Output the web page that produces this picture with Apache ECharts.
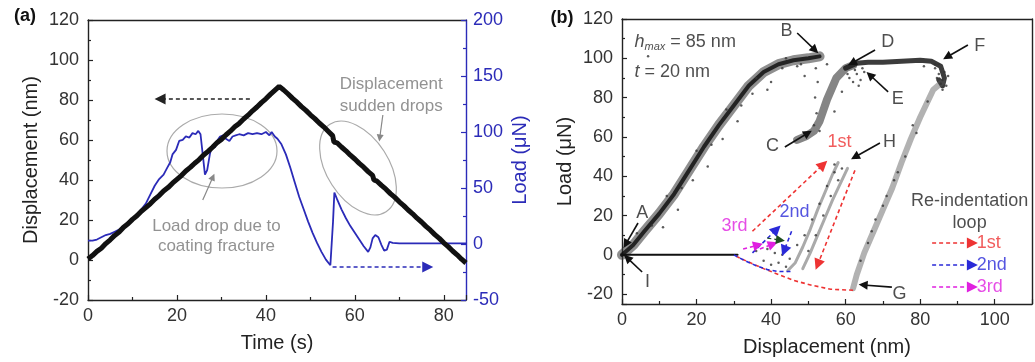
<!DOCTYPE html>
<html><head><meta charset="utf-8">
<script src="https://cdn.jsdelivr.net/npm/echarts@6/dist/echarts.min.js"></script>
<style>html,body{margin:0;padding:0;background:#fff}#c{width:1035px;height:362px}</style>
</head><body><div id="c"></div>
<script>
// ---------- Panel (a): displacement & load vs time ----------
const timeDisp = [0,1,2,3,4,5,6,7,8,9,10,11,12,13,14,15,16,17,18,19,20,21,22,23,24,25,26,27,28,29,30,31,32,33,34,35,36,37,38,39,40,41,42,43,44,45,46,47,48,49,50,51,52,53,54,55,55.3,56,57,58,59,60,61,62,63,64,64.3,65,66,67,68,69,70,71,72,73,74,75,76,77,78,79,80,81,82,83,84,85];
const dispValues = [0.5,2.2,4.3,5.9,8.2,10.1,12.3,14,16.4,18.1,20.3,22.1,24.4,26.2,28.1,30.4,32.2,34.5,36.2,38.4,40.3,42.2,44.5,46.3,48.4,50.2,52.5,54.3,56.4,58.6,60.3,62.5,64.4,66.6,68.3,70.5,72.4,74.6,76.5,78.7,80.6,82.8,84.8,86.8,85,83,80.8,78.9,76.7,74.8,72.6,70.7,68.5,66.6,64.4,62.2,59,58.6,56.5,54.6,52.4,50.5,48.3,46.4,44.2,42.3,40,39.4,37.3,35.4,33.2,31.3,29.1,27.2,25,23.1,20.9,19,16.8,14.9,12.7,10.8,8.6,6.7,4.5,2.6,0.4,-1.5];
const timeLoad = [0,1,2,3,4,5,6,7,8,9,10,11,12,13,14,15,16,17,17.8,18.5,19,19.8,20.5,21.3,22,22.8,23.5,24.2,24.8,25.3,25.6,26.3,26.8,27.4,27.9,28.5,29,29.7,30.4,31,31.8,32.5,33.2,34,35,36,37,38,39,40,40.8,41.3,42,42.6,43.5,44.5,45.5,46.5,47.5,48.5,49.5,50.5,51.5,52.5,53.5,54.5,54.9,55.1,55.4,56,57,58,59,60,61,62,63,63.5,64,64.6,65.3,66,66.6,67.2,67.8,68.5,70,75,80,85];
const loadValues = [3,3,4,6,8,9,11,13,16,19,22,26,31,36,44,52,58,62,68,73,80,84,92,93,96,95,99,98,101,98,99,62,66,80,88,86,92,96,97,94,92,96,97,98,97,99,98,99,98,100,97,100,96,94,89,80,68,55,42,31,20,10,1,-7,-14,-19,-20.5,20,46,40,31,23,16,10,4,-2,-7,-3,5,8,6,-1,-6,-5,2,1,0.5,0.5,0.5,0.5];
const dispTicks = [-20,0,20,40,60,80,100,120];
const loadTicks = [-50,0,50,100,150,200];
const timeTicks = [0,20,40,60,80];

// ---------- Panel (b): load vs displacement ----------
const loadingAB_x = [0,1.5,3,6,10,14,18,22,26,30,34,38,42,46,50,53];
const loadingAB_y = [0,2.5,5,12,21,31,43,55,66,76,86,93,97,99,100,101];
const reloadCD_x = [47,49.5,51.5,53,55,57.5,60,62];
const reloadCD_y = [58.5,60.5,63,68,79,90,95,96.5];
const plateauDF_x = [60,63,66,70,75,80,83,85.5,86.5,86,85];
const plateauDF_y = [95,97.5,98,98,98.5,99,98.5,96,90,86,89];
const unloadFG_x = [86,83.5,80,77.5,75,72.5,70,67.5,65,63,62];
const unloadFG_y = [88,84,70,59,47,34,23,12,1,-10,-17];
const flatI_x = [0,10,20,31];
const flatI_y = [0,0,0,0];
const innerL_x = [44.5,46.5,48.5,50.5,52.5,54.5,56.5,58];
const innerL_y = [-8,-4,4,13,23,32,41,47];
const innerR_x = [48.5,50.5,52.5,54.5,56.5,58.5,60.5];
const innerR_y = [-7,1,10,19,28,36,44];
const dots_x = [52,52.5,51.8,52.2,51.5,61,62,63,64,65,62.5,60.5,63.5,64.5,84,85,86,87,85.5,86.5,84.5,87.5,85,86,38,40,42,44,36,39,41,43,45,47,49,51,53,55,57,50,52,54,56,58,59,57,82,79,76,73,70,67,64,74,71,68,66,4,8,12,16,20,24,28,32,36,40,44,48,7,11,15,19,23,27,31,35,39,43,47,55,57,59,49,53,78,81,84];
const dots_y = [95,88,80,72,66,90,88,92,89,93,94,92,86,95,95,92,89,86,87,93,90,91,97,84,-3,-5,-4,-6,2,3,1,0,-2,5,10,18,26,35,42,2,10,20,30,38,44,46,78,62,50,38,25,12,-3,42,30,18,6,11,15,30,34,53,56,74,76,90,88,100,97,101,14,23,38,45,59,68,82,84,95,96,97,73,83,91,63,66,96,97,97];
const xTicksB = [0,20,40,60,80,100];
const yTicksB = [-20,0,20,40,60,80,100,120];

const fam = "'Liberation Sans', Arial, Helvetica, sans-serif";
const BLUE = '#2b2bb8';
const zip = (a, b) => a.map((v, i) => [v, b[i]]);

function xAx(grid, min, max, pos, show, name) {
  return {
    gridIndex: grid, type: 'value', min: min, max: max, position: pos,
    interval: show ? 20 : undefined,
    axisLine: {show: true, onZero: false, lineStyle: {color: '#222', width: 1.4}},
    axisTick: {show: show, inside: true, length: 5, lineStyle: {color: '#222', width: 1.2}},
    minorTick: {show: show, splitNumber: 2, length: 3, lineStyle: {color: '#222', width: 1.2}},
    axisLabel: {show: show, showMaxLabel: false, fontSize: 18, color: '#333', fontFamily: fam, margin: 7},
    splitLine: {show: false},
    name: name || '', nameLocation: 'middle', nameGap: 33,
    nameTextStyle: {fontSize: 20, color: '#222', fontFamily: fam}
  };
}
function yAx(grid, opts) {
  const color = opts.color || '#222';
  const show = opts.show !== false;
  const ax = {
    gridIndex: grid, type: 'value', min: opts.min, max: opts.max, position: opts.pos,
    axisLine: {show: true, onZero: false, lineStyle: {color: color, width: 1.4}},
    axisTick: {show: show, inside: true, length: 5, lineStyle: {color: color, width: 1.2}},
    minorTick: {show: show, splitNumber: 2, length: 3, lineStyle: {color: color, width: 1.2}},
    axisLabel: {show: show, fontSize: 18, color: opts.labelColor || '#333', fontFamily: fam, margin: opts.margin || 9,
      formatter: opts.fmt},
    splitLine: {show: false},
    name: opts.name || '', nameLocation: 'middle', nameGap: opts.gap || 45, nameRotate: 90,
    nameTextStyle: {fontSize: 20, color: opts.nameColor || '#222', fontFamily: fam}
  };
  if (opts.interval) ax.interval = opts.interval;
  if (opts.splitNumber) ax.splitNumber = opts.splitNumber;
  if (opts.hideMin) ax.axisLabel.showMinLabel = false;
  return ax;
}

function texts(xi, yi, items) {
  return {
    type: 'scatter', xAxisIndex: xi, yAxisIndex: yi, symbolSize: 1, silent: true, z: 20,
    itemStyle: {color: 'rgba(0,0,0,0)'},
    data: items.map(it => ({
      value: [it.x, it.y],
      label: {show: true, position: [0, 0], formatter: it.t, color: it.c || '#222',
        fontSize: it.s || 18, fontFamily: fam, fontWeight: it.w || 'normal',
        align: it.a || 'center', verticalAlign: 'middle', rich: it.rich}
    }))
  };
}
function arrows(xi, yi, list, color, width, dashed, size) {
  return {
    type: 'lines', coordinateSystem: 'cartesian2d', xAxisIndex: xi, yAxisIndex: yi,
    symbol: ['none', 'triangle'], symbolSize: size || 10, silent: true, z: 15,
    lineStyle: {color: color, width: width, type: dashed ? [4, 3] : 'solid', opacity: 1, curveness: 0},
    data: list.map(c => ({coords: c}))
  };
}
function curve(xi, yi, coords, color, width, dashed) {
  return {
    type: 'lines', coordinateSystem: 'cartesian2d', xAxisIndex: xi, yAxisIndex: yi, polyline: true,
    silent: true, z: 14,
    lineStyle: {color: color, width: width, type: dashed ? [4, 3] : 'solid', opacity: 1},
    data: [{coords: coords}]
  };
}
function band(xi, yi, xs, ys, color, width, op) {
  return {
    type: 'line', xAxisIndex: xi, yAxisIndex: yi, data: zip(xs, ys), showSymbol: false, silent: true,
    lineStyle: {color: color, width: width, opacity: op, join: 'round', cap: 'round'}, z: 3
  };
}

const option = {
  animation: false,
  backgroundColor: '#fff',
  grid: [
    {left: 88, top: 20, right: 569, bottom: 62},
    {left: 622, top: 19, right: 3, bottom: 58}
  ],
  xAxis: [
    xAx(0, 0, 85, 'bottom', true, 'Time (s)'),
    xAx(0, 0, 85, 'top', false),
    xAx(1, 0, 110, 'bottom', true, 'Displacement (nm)'),
    xAx(1, 0, 110, 'top', false)
  ],
  yAxis: [
    yAx(0, {min: -20, max: 120, interval: 20, pos: 'left', name: 'Displacement (nm)', gap: 47}),
    yAx(0, {min: -50, max: 200, interval: 50, pos: 'right', color: BLUE, labelColor: BLUE, nameColor: BLUE,
      name: 'Load (μN)', gap: 44, margin: 7}),
    yAx(1, {min: -25, max: 120, splitNumber: 7, pos: 'left', name: 'Load (μN)', gap: 47, hideMin: true,
      fmt: v => (Math.abs(v % 20) < 1e-9 ? String(v) : '')}),
    yAx(1, {min: -25, max: 120, pos: 'right', show: false})
  ],
  graphic: [
    {type: 'ellipse', shape: {cx: 222, cy: 151, rx: 55, ry: 37}, style: {fill: 'none', stroke: '#aaa', lineWidth: 1.2}, z: 1},
    {type: 'ellipse', x: 358, y: 168, rotation: -1.0, shape: {cx: 0, cy: 0, rx: 52, ry: 31}, style: {fill: 'none', stroke: '#aaa', lineWidth: 1.2}, z: 1}
  ],
  series: [
    // panel (a)
    {type: 'line', xAxisIndex: 0, yAxisIndex: 1, data: zip(timeLoad, loadValues), showSymbol: false,
      lineStyle: {color: BLUE, width: 1.8}, z: 4},
    {type: 'line', xAxisIndex: 0, yAxisIndex: 0, data: zip(timeDisp, dispValues), showSymbol: false,
      lineStyle: {color: '#111', width: 5}, z: 5},
    arrows(0, 0, [[[36.4, 80.5], [16.2, 80.5]]], '#222', 1.6, true, 11),
    arrows(0, 1, [[[55, -20.5], [76.4, -20.5]]], BLUE, 1.6, true, 11),
    arrows(0, 0, [[[66.3, 72.5], [65.6, 61]], [[25.8, 30], [28.1, 41.5]]], '#888', 1.2, false, 7),
    texts(0, 0, [
      {x: 68.3, y: 87.5, t: 'Displacement', c: '#777', s: 17},
      {x: 68.3, y: 76.5, t: 'sudden drops', c: '#777', s: 17},
      {x: 29, y: 16.5, t: 'Load drop due to', c: '#777', s: 17},
      {x: 29, y: 6.5, t: 'coating fracture', c: '#777', s: 17}
    ]),
    // panel (b)
    band(2, 2, loadingAB_x, loadingAB_y, '#333', 10, 0.55),
    band(2, 2, loadingAB_x, loadingAB_y, '#111', 4, 0.85),
    band(2, 2, reloadCD_x, reloadCD_y, '#333', 8, 0.6),
    band(2, 2, plateauDF_x, plateauDF_y, '#1a1a1a', 5, 0.85),
    band(2, 2, unloadFG_x, unloadFG_y, '#555', 6, 0.45),
    band(2, 2, flatI_x, flatI_y, '#111', 2, 1),
    band(2, 2, innerL_x, innerL_y, '#555', 3, 0.5),
    band(2, 2, innerR_x, innerR_y, '#555', 3, 0.5),
    {type: 'scatter', xAxisIndex: 2, yAxisIndex: 2, data: zip(dots_x, dots_y), symbolSize: 2.5, silent: true,
      itemStyle: {color: '#333', opacity: 0.8}, z: 4},
    curve(2, 2, [[62, -18], [56, -17.5], [51, -15.5], [46, -13], [42, -10], [38, -7], [35, -4.5], [32, -2], [30, 0]], '#e33', 1.6, true),
    curve(2, 2, [[30, 0], [33, -3], [36, -5.5], [39, -7.5], [42, -8.5], [46, -8.5]], '#2a2ad8', 1.6, true),
    arrows(2, 2, [[[35, 12], [54, 46]], [[62.5, 43], [52.5, -5]]], '#e33', 1.6, true, 11),
    arrows(2, 2, [[[35, 1], [41.5, 13]], [[45.5, 12], [43.5, 2]]], '#2a2ad8', 1.6, true, 11),
    arrows(2, 2, [[[32.5, 3], [36.5, 5]], [[37, 3], [40.5, 5.5]]], '#e020e0', 1.6, true, 10),
    arrows(2, 2, [[[39, 8.5], [42.5, 7.5]]], '#1f4f1f', 1.2, true, 9),
    arrows(2, 2, [
      [[4.3, 16.2], [1.0, 5.5]], [[5.4, -8.7], [1.4, -1.5]], [[47, 112.9], [51.8, 104.2]],
      [[43.7, 54.9], [49.9, 62]], [[67.9, 104.2], [61.7, 97.6]], [[71.4, 82.9], [66.5, 91.5]],
      [[92.8, 106.8], [87.2, 100.7]], [[69.2, 56.9], [62.5, 49.8]], [[72.4, -16.4], [64.7, -15.3]]
    ], '#111', 1.6, false, 9),
    // legend of re-indentation loops
    arrows(2, 2, [[[83.2, 6], [94, 6]]], '#e33', 1.6, true, 11),
    arrows(2, 2, [[[83.2, -5.2], [94, -5.2]]], '#2a2ad8', 1.6, true, 11),
    arrows(2, 2, [[[83.2, -16.4], [94, -16.4]]], '#e020e0', 1.6, true, 11),
    texts(2, 2, [
      {x: 93.4, y: 26.9, t: 'Re-indentation'},
      {x: 93.4, y: 15.7, t: 'loop'},
      {x: 95.3, y: 6, t: '1st', c: '#e33', a: 'left'},
      {x: 95.3, y: -5.2, t: '2nd', c: '#2a2ad8', a: 'left'},
      {x: 95.3, y: -16.4, t: '3rd', c: '#e020e0', a: 'left'},
      {x: 58.5, y: 56.9, t: '1st', c: '#e33'},
      {x: 46.4, y: 21.3, t: '2nd', c: '#2a2ad8'},
      {x: 30.3, y: 14.2, t: '3rd', c: '#e020e0'},
      {x: 5.6, y: 20.8, t: 'A'}, {x: 44.3, y: 113.4, t: 'B'}, {x: 40.5, y: 54.9, t: 'C'},
      {x: 71.4, y: 107.8, t: 'D'}, {x: 74.1, y: 78.8, t: 'E'}, {x: 96.1, y: 105.8, t: 'F'},
      {x: 74.6, y: -20.4, t: 'G'}, {x: 71.9, y: 56.9, t: 'H'}, {x: 7.0, y: -14.3, t: 'I'},
      {x: 3.5, y: 107.8, a: 'left', t: '{i|h}{s|max}{n| = 85 nm}',
        rich: {i: {fontStyle: 'italic', fontSize: 18, fontFamily: fam, color: '#222'},
               s: {fontStyle: 'italic', fontSize: 11, fontFamily: fam, color: '#222', padding: [9, 0, 0, 0]},
               n: {fontSize: 18, fontFamily: fam, color: '#222'}}},
      {x: 3.5, y: 93, a: 'left', t: '{i|t}{n| = 20 nm}',
        rich: {i: {fontStyle: 'italic', fontSize: 18, fontFamily: fam, color: '#222'},
               n: {fontSize: 18, fontFamily: fam, color: '#222'}}}
    ])
  ]
};
option.graphic.push(
  {type: 'text', x: 25, y: 16, style: {text: '(a)', font: 'bold 18px ' + fam, fill: '#111', align: 'center', verticalAlign: 'middle'}},
  {type: 'text', x: 562, y: 18, style: {text: '(b)', font: 'bold 18px ' + fam, fill: '#111', align: 'center', verticalAlign: 'middle'}}
);
const chart = echarts.init(document.getElementById('c'), null, {renderer: 'canvas'});
chart.setOption(option);
</script></body></html>
